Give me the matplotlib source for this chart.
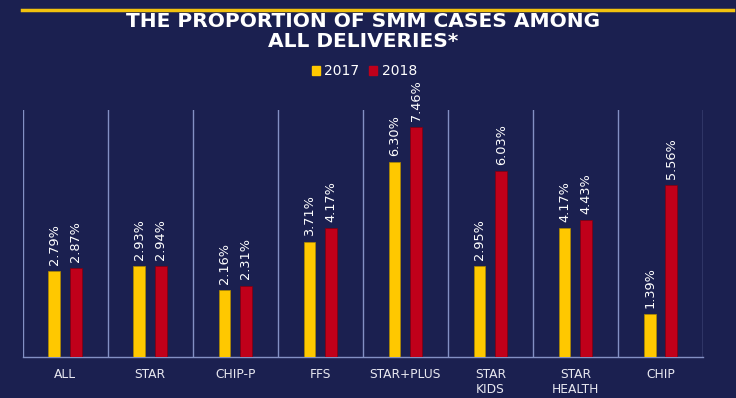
import numpy as np
import matplotlib.pyplot as plt
from matplotlib.lines import Line2D
from matplotlib.patches import Patch

# data
categories = ['ALL', 'STAR', 'CHIP-P', 'FFS', 'STAR+PLUS', 'STAR\nKIDS', 'STAR\nHEALTH', 'CHIP']
vals_2017 = [2.79, 2.93, 2.16, 3.71, 6.30, 2.95, 4.17, 1.39]
vals_2018 = [2.87, 2.94, 2.31, 4.17, 7.46, 6.03, 4.43, 5.56]
series = ['2017', '2018']

BG = '#1b2050'
YEL = '#ffc800'
RED = '#c0001a'
GRID = '#8390c4'

fig = plt.figure(figsize=(7.36, 3.98), dpi=100, facecolor=BG)
ax = fig.add_axes([0.0306, 0.1035, 0.9246, 0.620])
ax.set_facecolor(BG)

x = np.arange(len(categories))
off = 0.127
w = 0.137
b1 = ax.bar(x - off, vals_2017, w, color=YEL, edgecolor='#b08a00', linewidth=0.5, zorder=3)
b2 = ax.bar(x + off, vals_2018, w, color=RED, edgecolor='#800010', linewidth=0.5, zorder=3)

for bars, vals in ((b1, vals_2017), (b2, vals_2018)):
    for r, v in zip(bars, vals):
        ax.text(r.get_x() + r.get_width() / 2, v + 0.2, '{:.2f}%'.format(v),
                rotation=90, ha='center', va='bottom', color='white',
                fontsize=9.3, clip_on=False)

ax.set_xlim(-0.5, len(categories) - 0.5)
ax.set_ylim(0, 8)
for b in np.arange(len(categories) + 1) - 0.5:
    ax.axvline(b, color=GRID, lw=1, zorder=1)
for s in ['top', 'right', 'left']:
    ax.spines[s].set_visible(False)
ax.spines['bottom'].set_color(GRID)
ax.spines['bottom'].set_linewidth(1)
ax.set_yticks([])
ax.set_xticks(x)
ax.set_xticklabels(categories, color='#e8e8f0', fontsize=8.8, linespacing=1.25)
ax.tick_params(axis='x', length=0, pad=8)

# gold rule at the top
fig.add_artist(Line2D([22 / 736, 733 / 736], [1 - 10 / 398, 1 - 10 / 398],
                      color='#f2c20e', lw=2.5))

fig.text(0.493, 1 - 31.5 / 398, 'THE PROPORTION OF SMM CASES AMONG\nALL DELIVERIES*',
         ha='center', va='center', color='white', fontsize=14.5,
         fontweight='bold', linespacing=1.12)

handles = [Patch(color=YEL), Patch(color=RED)]
fig.legend(handles, series, loc='center', bbox_to_anchor=(0.495, 1 - 71 / 398),
           ncol=2, frameon=False, fontsize=10, labelcolor='white',
           handlelength=0.6, handleheight=0.6, handletextpad=0.3, columnspacing=0.7)

fig.savefig('out.png', dpi=100, facecolor=BG)
